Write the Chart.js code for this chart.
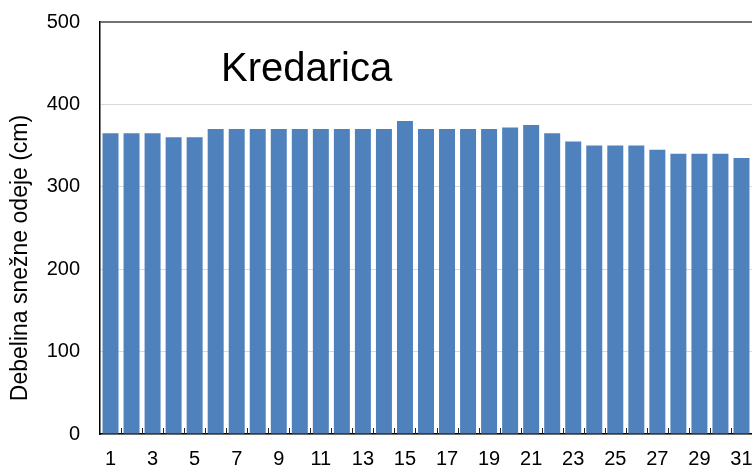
<!DOCTYPE html>
<html>
<head>
<meta charset="utf-8">
<script src="https://cdn.jsdelivr.net/npm/chart.js@4"></script>
<style>
  html, body { margin: 0; padding: 0; background: #fff; }
  #wrap { width: 752px; height: 466px; }
</style>
</head>
<body>
<div id="wrap"><canvas id="chart1"></canvas></div>
<script>
// days of the month
var days = ['1','2','3','4','5','6','7','8','9','10','11','12','13','14','15','16',
            '17','18','19','20','21','22','23','24','25','26','27','28','29','30','31'];
// snow depth in cm
var snowDepth = [365, 365, 365, 360, 360, 370, 370, 370, 370, 370, 370, 370, 370, 370, 380, 370,
                 370, 370, 370, 372, 375, 365, 355, 350, 350, 350, 345, 340, 340, 340, 335];
var yTicks = [0, 100, 200, 300, 400, 500];
var stationName = 'Kredarica';
var yTitle = 'Debelina snežne odeje (cm)';

var fontFamily = '"Liberation Sans", Arial, sans-serif';

// frame line on top, small tick marks and texts inside the plot
var extras = {
  id: 'extras',
  afterDraw: function (chart) {
    var c = chart.ctx, a = chart.chartArea, x = chart.scales.x;
    c.save();
    c.strokeStyle = '#444';
    c.lineWidth = 1.5;
    c.beginPath();
    c.moveTo(a.left, a.top);
    c.lineTo(a.right, a.top);
    c.stroke();

    // tick marks between categories, pointing up
    c.strokeStyle = '#222';
    c.lineWidth = 1;
    var w = x.getPixelForTick(1) - x.getPixelForTick(0);
    for (var i = 1; i < days.length; i++) {
      var px = Math.round(x.getPixelForTick(i) - w / 2) + 0.5;
      c.beginPath();
      c.moveTo(px, a.bottom);
      c.lineTo(px, a.bottom - 6);
      c.stroke();
    }

    c.fillStyle = '#000';
    c.font = '40px ' + fontFamily;
    c.textBaseline = 'alphabetic';
    c.textAlign = 'left';
    c.fillText(stationName, 221, 81);

    c.font = '23px ' + fontFamily;
    c.translate(21, 258);
    c.rotate(-Math.PI / 2);
    c.textAlign = 'center';
    c.textBaseline = 'middle';
    c.fillText(yTitle, 0, 0);
    c.restore();
  }
};

var ctx = document.getElementById('chart1').getContext('2d');
var chart = new Chart(ctx, {
  type: 'bar',
  data: {
    labels: days,
    datasets: [{
      data: snowDepth,
      backgroundColor: '#4f81bd',
      borderWidth: 0,
      barPercentage: 0.76,
      categoryPercentage: 1
    }]
  },
  options: {
    responsive: true,
    maintainAspectRatio: false,
    animation: false,
    layout: { padding: { top: 22, right: -1, left: 0, bottom: 0 } },
    plugins: { legend: { display: false }, tooltip: { enabled: false } },
    scales: {
      x: {
        grid: { display: false, drawTicks: false },
        border: { color: '#000', width: 1.5 },
        afterFit: function (s) { s.height = 32; s.paddingLeft = 0; s.paddingRight = 0; },
        ticks: {
          autoSkip: false,
          maxRotation: 0,
          padding: 13,
          color: '#000',
          font: { family: fontFamily, size: 20 },
          callback: function (v, i) { return i % 2 === 0 ? days[i] : ''; }
        }
      },
      y: {
        min: 0,
        max: 500,
        afterFit: function (s) { s.width = 100; s.paddingTop = 0; s.paddingBottom = 0; },
        afterBuildTicks: function (s) { s.ticks = yTicks.map(function (v) { return { value: v }; }); },
        border: { color: '#000', width: 1.5 },
        grid: {
          color: function (c) { return c.tick && c.tick.value === 500 ? 'rgba(0,0,0,0)' : '#d9d9d9'; },
          drawTicks: false,
          lineWidth: 1
        },
        ticks: {
          padding: 20,
          color: '#000',
          font: { family: fontFamily, size: 20 }
        }
      }
    }
  },
  plugins: [extras]
});
</script>
</body>
</html>
